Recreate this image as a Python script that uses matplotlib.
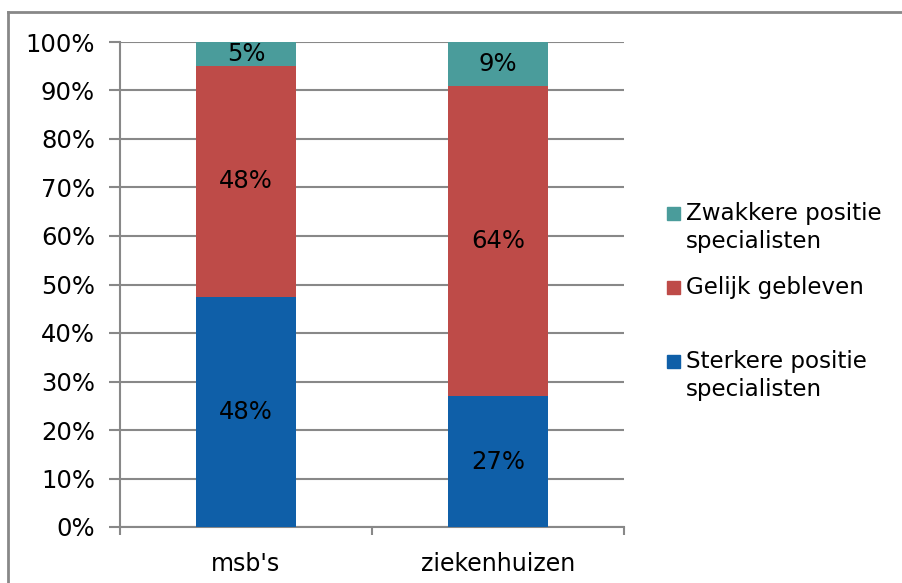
import matplotlib.pyplot as plt
from matplotlib.lines import Line2D
from matplotlib.patches import Rectangle
from matplotlib.ticker import PercentFormatter

categories = ["msb's", "ziekenhuizen"]
series = ["Sterkere positie\nspecialisten", "Gelijk gebleven", "Zwakkere positie\nspecialisten"]
sterker = [47.5, 27]
gelijk = [47.5, 64]
zwakker = [5, 9]
labels = [["48%", "27%"], ["48%", "64%"], ["5%", "9%"]]
colors = ["#0F5FA8", "#BE4B48", "#4A9C9B"]

grey = "#888888"
fs = 17.5

fig = plt.figure(figsize=(9.03, 5.83), dpi=100)
ax = fig.add_axes([120 / 903, 56 / 583, 504 / 903, 485 / 583])

x = range(len(categories))
bottom = [0, 0]
for vals, lab, col in zip([sterker, gelijk, zwakker], labels, colors):
    bars = ax.bar(x, vals, width=0.4, bottom=bottom, color=col, zorder=3)
    for b, t in zip(bars, lab):
        ax.text(b.get_x() + b.get_width() / 2, b.get_y() + b.get_height() / 2, t,
                ha='center', va='center', fontsize=fs, zorder=4)
    bottom = [a + v for a, v in zip(bottom, vals)]

ax.set_xlim(-0.5, 1.5)
ax.set_ylim(0, 100)
ax.set_yticks(range(0, 101, 10))
ax.yaxis.set_major_formatter(PercentFormatter(decimals=0))
ax.set_xticks(list(x))
ax.set_xticklabels(categories)
ax.set_xticks([-0.5, 0.5, 1.5], minor=True)
ax.tick_params(axis='x', which='major', length=0, labelsize=17, pad=18)
ax.tick_params(axis='x', which='minor', length=6, color=grey, width=1.5)
ax.tick_params(axis='y', length=8, color=grey, width=1.5, labelsize=fs, pad=10)
ax.grid(axis='y', color=grey, linewidth=1.5, zorder=0)
for s in ['top', 'right']:
    ax.spines[s].set_visible(False)
for s in ['left', 'bottom']:
    ax.spines[s].set_color(grey)
    ax.spines[s].set_linewidth(1.5)

# legend, top entry first
leg_y = [202, 276, 350]
for name, col, yy in zip(series[::-1], colors[::-1], leg_y):
    fig.patches.append(Rectangle((667 / 903, 1 - (yy + 18) / 583), 13 / 903, 13 / 583,
                                 transform=fig.transFigure, color=col))
    fig.text(686 / 903, 1 - yy / 583, name, fontsize=16.6, va='top', ha='left',
             linespacing=1.3)

# outer border
fig.add_artist(Line2D([8 / 903, 1], [1 - 12 / 583] * 2, color=grey, lw=2, transform=fig.transFigure))
fig.add_artist(Line2D([8 / 903] * 2, [0, 1 - 12 / 583], color=grey, lw=2, transform=fig.transFigure))

fig.savefig('out.png', dpi=100)
